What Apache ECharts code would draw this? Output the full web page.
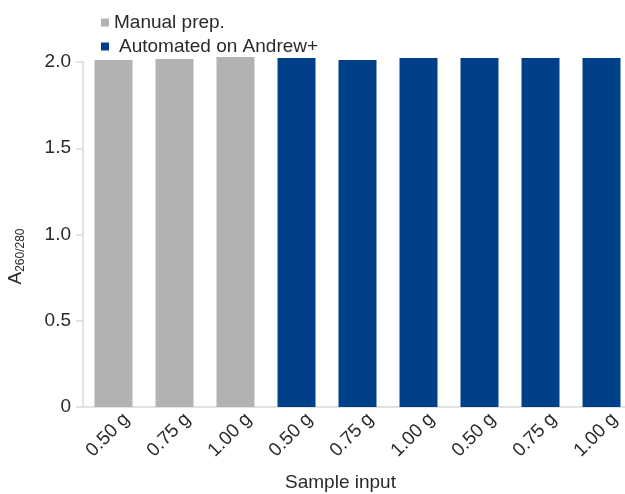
<!DOCTYPE html>
<html>
<head>
<meta charset="utf-8">
<script src="https://cdn.jsdelivr.net/npm/echarts@6/dist/echarts.min.js"></script>
<style>html,body{margin:0;padding:0;background:#fff}#c{width:625px;height:494px}</style>
</head>
<body>
<div id="c"></div>
<script>
const categories = ['0.50 g','0.75 g','1.00 g','0.50 g','0.75 g','1.00 g','0.50 g','0.75 g','1.00 g'];
const manualValues = [2.012, 2.017, 2.029, '-', '-', '-', '-', '-', '-'];
const automatedValues = ['-', '-', '-', 2.023, 2.012, 2.023, 2.023, 2.023, 2.023];
const seriesNames = ['Manual prep.', 'Automated on Andrew+'];
const yTicks = [0, 0.5, 1.0, 1.5, 2.0];

const FONT = 'Liberation Sans';
const TXT = '#2a2a2a';
const AX = '#d9d9d9';
const FS = 19;
const chart = echarts.init(document.getElementById('c'));
chart.setOption({
  animation: false,
  textStyle: {fontFamily: FONT},
  legend: {
    orient: 'vertical', left: 96, top: 8,
    itemWidth: 8, itemHeight: 8, itemGap: 5, icon: 'rect',
    data: seriesNames,
    formatter: n => n === seriesNames[1] ? '{b|' + n + '}' : '{a|' + n + '}',
    textStyle: {
      fontFamily: FONT, fontSize: FS, color: TXT,
      rich: {a: {fontFamily: FONT, fontSize: FS, color: TXT, padding: [0,0,0,0]},
             b: {fontFamily: FONT, fontSize: FS, color: TXT, padding: [0,0,0,5]}}
    }
  },
  grid: {left: 83, width: 549, top: 62, bottom: 87, outerBoundsMode: 'none', containLabel: false},
  xAxis: {
    type: 'category', data: categories,
    name: 'Sample input', nameLocation: 'middle', nameGap: 66,
    nameTextStyle: {fontFamily: FONT, fontSize: FS, color: TXT, padding: [0, 34, 0, 0]},
    axisLine: {lineStyle: {color: AX, width: 1.5}},
    axisTick: {lineStyle: {color: AX, width: 1.5}, length: 7},
    axisLabel: {rotate: 45, margin: 9, verticalAlign: 'top', padding: [0, -9, 0, 0],
      fontFamily: FONT, fontSize: FS, color: TXT}
  },
  yAxis: {
    type: 'value', min: 0, max: 2, interval: 0.5,
    name: '{a|A}{s|260/280}', nameLocation: 'middle', nameGap: 56,
    nameTextStyle: {
      fontFamily: FONT, color: TXT, padding: [0, 44, 0, 0],
      rich: {a: {fontFamily: FONT, fontSize: FS, color: TXT, lineHeight: 22},
             s: {fontFamily: FONT, fontSize: 12, color: TXT, verticalAlign: 'bottom', lineHeight: 22, padding: [6,0,0,0]}}
    },
    splitLine: {show: false},
    axisLine: {show: true, lineStyle: {color: AX, width: 1.5}},
    axisTick: {show: true, length: 7, lineStyle: {color: AX, width: 1.5}},
    axisLabel: {margin: 12, fontFamily: FONT, fontSize: FS, color: TXT,
      formatter: v => v === 0 ? '0' : v.toFixed(1)}
  },
  series: [
    {name: seriesNames[0], type: 'bar', data: manualValues, barWidth: 38, barGap: '-100%', clip: false,
     itemStyle: {color: '#b2b2b4'}},
    {name: seriesNames[1], type: 'bar', data: automatedValues, barWidth: 38, barGap: '-100%', clip: false,
     itemStyle: {color: '#004089'}}
  ]
});
</script>
</body>
</html>
